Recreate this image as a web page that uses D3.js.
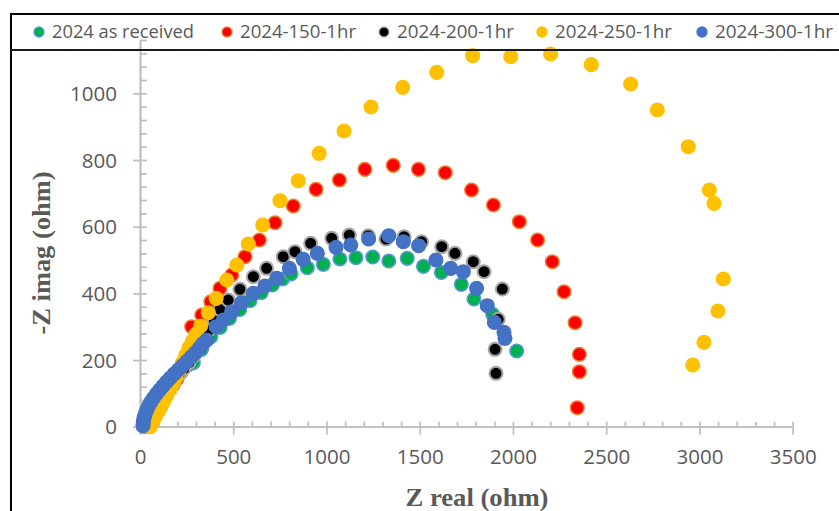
<!DOCTYPE html>
<html>
<head>
<meta charset="utf-8">
<script src="https://cdn.jsdelivr.net/npm/d3@7/dist/d3.min.js"></script>
<style>
  html, body { margin: 0; padding: 0; background: #fff; }
  svg { display: block; }
</style>
</head>
<body>
<svg id="chart" width="839" height="511"></svg>
<script>
// ---------------- DATA ----------------
const seriesNames = ["2024 as received", "2024-150-1hr", "2024-200-1hr", "2024-250-1hr", "2024-300-1hr"];

const asReceivedX = [24,27,31,37,45,55,67,81,97,114,132,151,171,192,214,237,260,286,330,380,430,480,535,590,650,710,765,810,897,983,1072,1158,1248,1334,1433,1520,1616,1723,1791,1891,2020];
const asReceivedY = [0,12,24,35,47,59,71,83,95,107,119,131,143,155,167,178,186,192,232,270,298,325,352,378,402,425,443,458,477,487,503,507,509,497,505,481,463,427,383,337,227];

const h150X = [45,52,62,74,88,104,121,139,158,178,198,218,237,254,265,277,331,380,429,492,563,640,724,822,944,1069,1206,1358,1493,1637,1778,1895,2034,2132,2211,2274,2333,2356,2356,2345];
const h150Y = [0,12,25,38,52,66,80,95,110,126,143,162,183,206,235,300,335,375,415,455,510,560,612,662,712,740,772,784,772,762,710,665,615,560,495,405,312,217,165,57];

const h200X = [20,24,30,38,48,60,74,90,108,127,147,168,190,213,237,262,288,314,340,366,398,429,473,536,608,679,768,831,915,1028,1122,1224,1319,1416,1510,1618,1689,1787,1845,1943,1921,1904,1909];
const h200Y = [0,12,24,36,48,60,72,84,96,108,120,133,146,160,175,192,212,235,260,288,320,352,380,412,450,475,510,525,550,565,575,573,563,570,555,540,520,495,465,413,322,232,160];

const h250X = [55,62,72,84,98,112,127,143,160,177,194,211,228,245,262,280,300,325,366,408,465,519,581,658,751,849,961,1094,1239,1409,1591,1784,1988,2202,2420,2631,2774,2940,3053,3078,3128,3099,3024,2964];
const h250Y = [0,10,20,32,46,60,76,93,111,130,150,171,192,214,236,256,278,302,342,385,440,485,548,605,678,738,820,887,959,1018,1063,1113,1110,1118,1086,1028,950,840,710,670,443,347,253,185];

const h300X = [16,18,22,28,36,46,58,72,88,105,123,142,162,183,205,228,251,274,297,318,338,358,408,447,492,545,608,670,733,801,875,951,1051,1130,1226,1334,1412,1494,1587,1666,1734,1805,1862,1900,1952,1957];
const h300Y = [3,15,27,38,50,62,74,86,98,110,122,134,146,158,170,183,196,209,222,236,249,260,300,320,345,372,400,422,445,475,502,520,538,545,563,573,555,543,500,475,465,415,363,313,283,265];

const xTickLabels = [0, 500, 1000, 1500, 2000, 2500, 3000, 3500];
const yTickLabels = [0, 200, 400, 600, 800, 1000];
const xMinorTicks = d3.range(0, 3501, 100);
const yMinorTicks = d3.range(0, 1161, 40);

// ---------------- STYLE / LAYOUT ----------------
const fills   = ["#00b050", "#ff0000", "#000000", "#ffc000", "#4472c4"];
const strokes = ["#5b9bd5", "#ed7d31", "#a5a5a5", "#ffc000", "#4472c4"];
const seriesData = [
  [asReceivedX, asReceivedY],
  [h150X, h150Y],
  [h200X, h200Y],
  [h250X, h250Y],
  [h300X, h300Y]
];

const svg = d3.select("#chart");
const x = d3.scaleLinear().domain([0, 3500]).range([140, 792.7]);
const y = d3.scaleLinear().domain([0, 1160]).range([426.7, 40]);

const axisColor = "#bfbfbf";
const textColor = "#595959";

const gy = svg.append("g").attr("transform", `translate(${x(0)},0)`)
  .call(d3.axisLeft(y).tickValues(yTickLabels).tickSize(7).tickSizeOuter(0).tickPadding(16).tickFormat(d3.format("d")));
const gy2 = svg.append("g").attr("transform", `translate(${x(0)},0)`)
  .call(d3.axisRight(y).tickValues(yMinorTicks).tickSize(7).tickSizeOuter(0).tickFormat(""));
const gx = svg.append("g").attr("transform", `translate(0,${y(0)})`)
  .call(d3.axisBottom(x).tickValues(xTickLabels).tickSize(8).tickSizeOuter(0).tickFormat(d3.format("d")));
const gx2 = svg.append("g").attr("transform", `translate(0,${y(0)})`)
  .call(d3.axisTop(x).tickValues(xMinorTicks).tickSize(5).tickSizeOuter(0).tickFormat(""));

[gy, gy2, gx, gx2].forEach(g => {
  g.select(".domain").attr("stroke", axisColor).attr("stroke-width", 1.75);
  g.selectAll(".tick line").attr("stroke", axisColor).attr("stroke-width", 1.75);
  g.selectAll(".tick text")
    .attr("fill", textColor)
    .style("font-family", "'Open Sans', sans-serif")
    .style("font-size", "20.5px");
});
gx.selectAll(".tick text").attr("y", 30).attr("dy", "0.35em");
gy.selectAll(".tick text").attr("dy", "0.35em");

// Points (drawn in legend order, later series on top)
seriesData.forEach(([xs, ys], i) => {
  const pts = xs.map((v, k) => ({ x: v, y: ys[k] }));
  svg.append("g").selectAll("circle").data(pts).join("circle")
    .attr("cx", d => x(d.x))
    .attr("cy", d => y(d.y))
    .attr("r", i === 2 ? 6.5 : 6.8)
    .attr("fill", fills[i])
    .attr("stroke", strokes[i])
    .attr("stroke-width", i === 2 ? 2 : 1.5);
});

// Frame and legend
const frame = svg.append("g");
frame.append("line").attr("x1", 11).attr("x2", 839).attr("y1", 14).attr("y2", 14).attr("stroke", "#000").attr("stroke-width", 2);
frame.append("line").attr("x1", 11).attr("x2", 11).attr("y1", 13).attr("y2", 511).attr("stroke", "#000").attr("stroke-width", 2);
frame.append("line").attr("x1", 11).attr("x2", 839).attr("y1", 50).attr("y2", 50).attr("stroke", "#1a1a1a").attr("stroke-width", 2);

const legendX = [39, 227, 384, 542, 702];
const legendW = [142, 116, 117, 117, 118];
const legend = svg.append("g");
seriesNames.forEach((name, i) => {
  legend.append("circle").attr("cx", legendX[i]).attr("cy", 32).attr("r", 5)
    .attr("fill", fills[i]).attr("stroke", strokes[i]).attr("stroke-width", 1.3);
  legend.append("text").attr("x", legendX[i] + 13).attr("y", 32).attr("dy", "0.35em")
    .attr("fill", textColor)
    .attr("textLength", legendW[i]).attr("lengthAdjust", "spacingAndGlyphs")
    .style("font-family", "'Open Sans', sans-serif").style("font-size", "18px")
    .text(name);
});

// Axis titles
svg.append("text")
  .attr("transform", "translate(41,253) rotate(-90)")
  .attr("text-anchor", "middle").attr("dy", "0.35em")
  .attr("fill", textColor)
  .attr("textLength", 163).attr("lengthAdjust", "spacingAndGlyphs")
  .style("font-family", "'Liberation Serif', 'Times New Roman', serif")
  .style("font-weight", "bold").style("font-size", "25px")
  .text("-Z imag (ohm)");
svg.append("text")
  .attr("x", 477).attr("y", 497)
  .attr("text-anchor", "middle").attr("dy", "0.35em")
  .attr("fill", textColor)
  .attr("textLength", 143).attr("lengthAdjust", "spacingAndGlyphs")
  .style("font-family", "'Liberation Serif', 'Times New Roman', serif")
  .style("font-weight", "bold").style("font-size", "25px")
  .text("Z real (ohm)");
</script>
</body>
</html>
